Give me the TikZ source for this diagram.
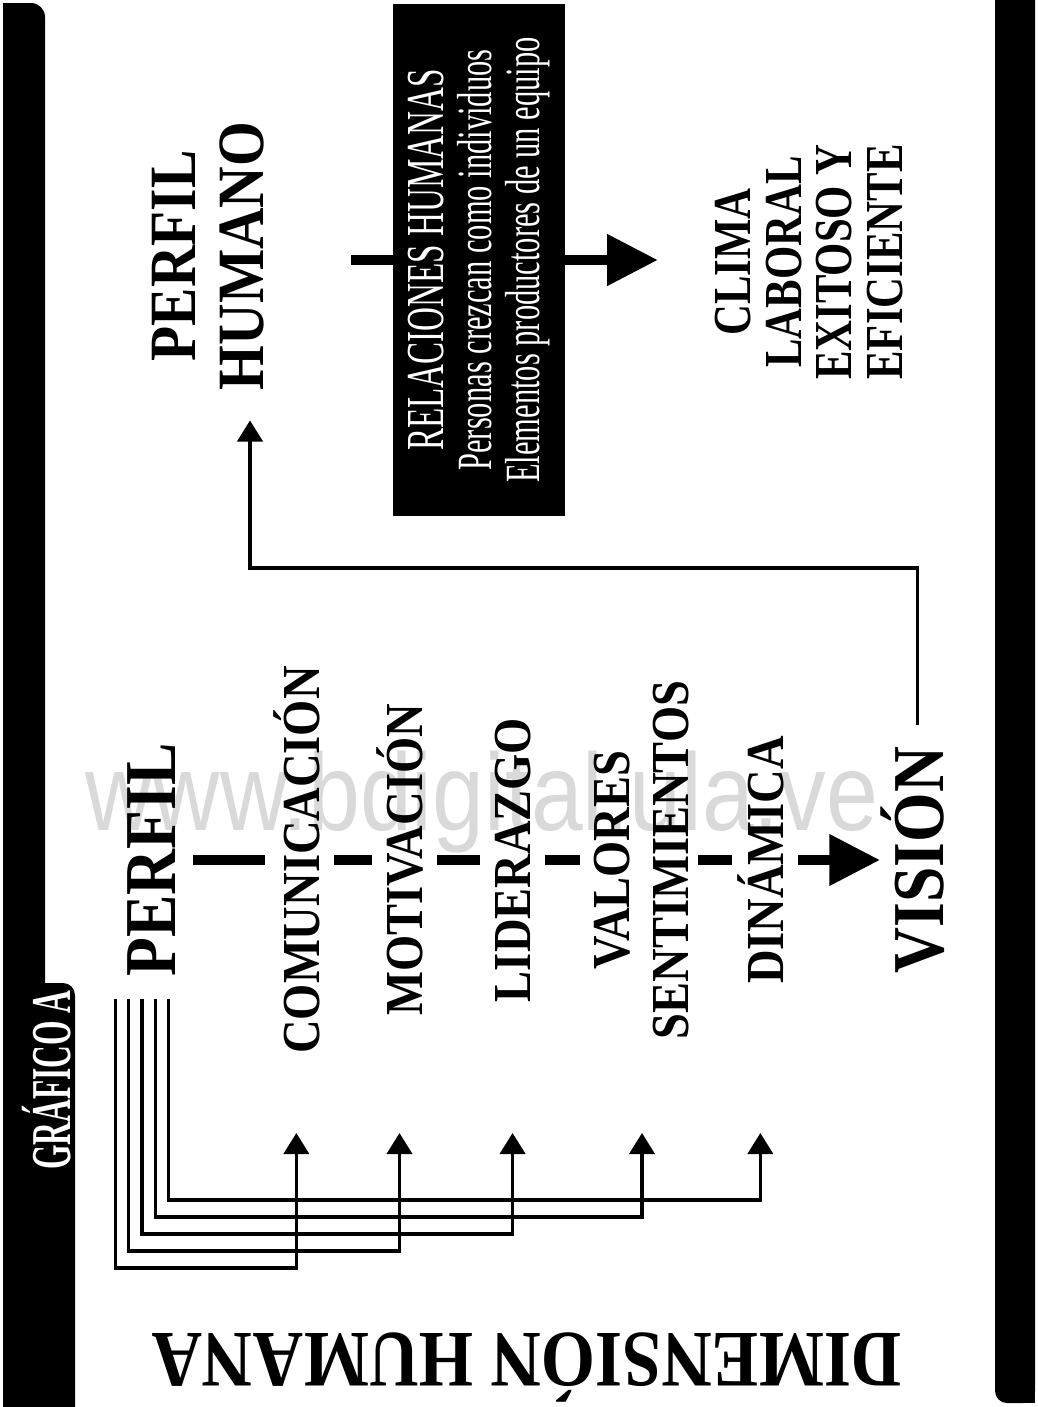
\documentclass[tikz,border=0pt]{standalone}
\usepackage{fontspec}
\setmainfont{Liberation Serif}
\newfontfamily\tallbf[FakeStretch=0.87]{Liberation Serif Bold}
\newfontfamily\narrowbf[FakeStretch=0.8]{Liberation Serif Bold}
\newfontfamily\tabbf[FakeStretch=0.56]{Liberation Serif Bold}
\newfontfamily\narrowrm[FakeStretch=0.62]{Liberation Serif}
\newfontfamily\markfont[FakeStretch=0.85]{Liberation Sans}
\usetikzlibrary{arrows.meta, calc}

\begin{document}
\begin{tikzpicture}[x=0.025cm, y=-0.025cm,
	topic/.style={rotate=90, anchor=base, inner sep=0pt, font=\tallbf\fontsize{38}{42}\selectfont},
	bigtopic/.style={topic, font=\tallbf\fontsize{52}{54}\selectfont},
	stack/.style={rotate=90, inner sep=0pt, align=center},
	relbox/.style={rotate=90, fill=black, text=white, inner sep=0pt, minimum width=12.775cm, minimum height=4.3cm, align=center, font=\narrowrm\fontsize{35}{34}\selectfont},
	headline/.style={rotate=180, anchor=base, inner sep=0pt, font=\tallbf\fontsize{57}{60}\selectfont},
	wmark/.style={anchor=base, inner sep=0pt, text=black!15, font=\markfont\fontsize{78}{80}\selectfont},
	dashbar/.style={line width=7pt},
	bigtip/.style={-{Triangle[length=36pt, width=35pt]}},
	feed/.style={line width=2.3pt, -{Triangle[length=15pt, width=18pt]}}]
	% Bars, nodes and connectors:
	\useasboundingbox (0,0) rectangle (1038,1407);
	\fill[rounded corners=0.35cm] (3,3) rectangle (45,1430);
	\fill (3,3) rectangle (25,1430);
	\fill[rounded corners=0.3cm] (3,983) rectangle (75,1430);
	\fill[rounded corners=0.3cm] (995,-30) rectangle (1035,1403);
	\fill (1015,-30) rectangle (1035,1403);
	\node[wmark] (wm) at (482,830) {www.bdigital.ula.ve};
	\node[topic, text=white, font=\tabbf\fontsize{40}{42}\selectfont] (grafico) at (70,1080) {GRÁFICO A};
	\node[headline] (dim) at (527,1333) {DIMENSIÓN HUMANA};
	\node[bigtopic] (perfil) at (175,860) {PERFIL};
	\node[topic] (comunic) at (319,860) {COMUNICACIÓN};
	\node[topic] (motiv) at (422,860) {MOTIVACIÓN};
	\node[topic] (lider) at (530,860) {LIDERAZGO};
	\node[stack, font=\tallbf\fontsize{38}{42}\selectfont] (valsen) at (642,860) {VALORES\\SENTIMIENTOS};
	\node[topic] (dinam) at (783,860) {DINÁMICA};
	\node[bigtopic] (vision) at (943,860) {VISIÓN};
	\node[stack, font=\tallbf\fontsize{47}{48}\selectfont] (perfhum) at (208,256) {PERFIL\\HUMANO};
	\node[relbox] (rel) at (479,260) {{\fontsize{38}{34}\selectfont RELACIONES HUMANAS}\\Personas crezcan como individuos\\Elementos productores de un equipo};
	\node[stack, font=\narrowbf\fontsize{38}{36}\selectfont] (clima) at (809,262) {CLIMA\\LABORAL\\EXITOSO Y\\EFICIENTE};
	\foreach \a/\b/\s/\e in {perfil/comunic/0.45/0.2, comunic/motiv/0.35/0.1, motiv/lider/0.35/0.35, lider/valsen/0.35/0.35, valsen/dinam/0.2/0.12}
		\draw[dashbar, shorten <=\s cm, shorten >=\e cm] (\a.south) -- (\b.north);
	\draw[dashbar, bigtip, shorten <=0.35cm] (dinam.south) -- (vision.north);
	\draw[dashbar, shorten <=2.175cm] (rel.north -| perfhum.south) -- (rel.north);
	\draw[dashbar, bigtip, shorten >=1.425cm] (rel.south) -- (rel.south -| clima.north);
	\coordinate (tips) at (0,1133);
	\coordinate (back) at (0,568);
	\coordinate (vtop) at ($(vision.east)+(5,0)$);
	\foreach \n [count=\i] in {dinam,valsen,lider,motiv,comunic}
		\draw[feed] ($(perfil.west)+({30.75-13.25*\i},22)$) |- ($(\n |- tips)+(0,{50+17*\i})$) -- (\n |- tips);
	\draw[feed, shorten <=0.55cm, shorten >=0.75cm] (vtop) -- (vtop |- back) -| ($(perfhum.west)+(42,0)$);
\end{tikzpicture}
\end{document}
